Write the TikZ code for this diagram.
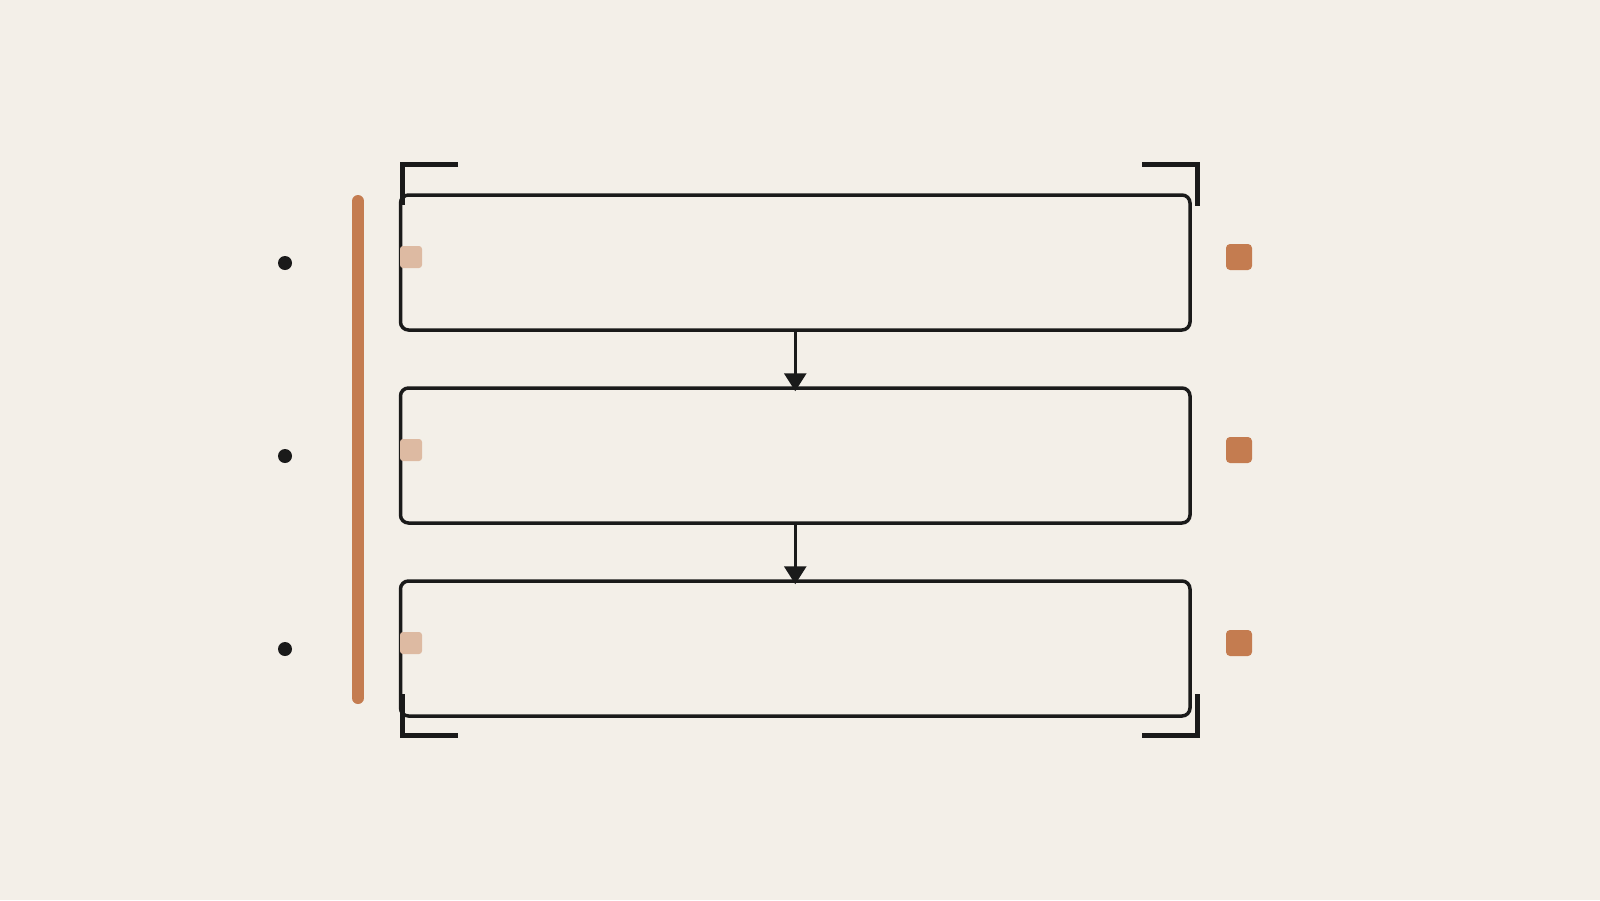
\documentclass[tikz,border=0pt]{standalone}
\usetikzlibrary{arrows.meta}
\definecolor{bg}{HTML}{F3EFE8}
\definecolor{ink}{HTML}{1A1A1A}
\definecolor{clay}{HTML}{C47C50}
\definecolor{pale}{HTML}{DDBAA2}
\tikzset{
  stage/.style={draw=ink, line width=3.5pt, rounded corners=8pt, minimum width=789.5pt, minimum height=135pt, inner sep=0pt, fill=none},
  tab/.style={fill=pale, rounded corners=3pt, minimum size=22pt, inner sep=0pt},
  tag/.style={fill=clay, rounded corners=4pt, minimum size=26pt, inner sep=0pt},
  pin/.style={circle, fill=ink, minimum size=14pt, inner sep=0pt},
  flow/.style={draw=ink, line width=3pt, -{Triangle[width=22pt,length=18pt]}, shorten >=-5pt},
  crop/.style={draw=ink, line width=5pt, line cap=butt, line join=miter}
}
\begin{document}
\begin{tikzpicture}[x=1pt,y=-1pt]
\fill[bg] (0,0) rectangle (1600,900);
\useasboundingbox (0,0) rectangle (1600,900);
% orange bar
\draw[clay, line width=12pt, line cap=round] (358,201) -- (358,698);
% boxes
\node[stage] (b1) at (795.25,262.5) {};
\node[stage] (b2) at (795.25,455.5) {};
\node[stage] (b3) at (795.25,648.5) {};
% arrows
\draw[flow] (b1.south) -- (b2.north);
\draw[flow] (b2.south) -- (b3.north);
% pale tabs
\node[tab] (t1) at (411,257) {};
\node[tab] (t2) at (411,450) {};
\node[tab] (t3) at (411,643) {};
% orange tags
\node[tag] (g1) at (1239,257) {};
\node[tag] (g2) at (1239,450) {};
\node[tag] (g3) at (1239,643) {};
% dots
\node[pin] (d1) at (285,263) {};
\node[pin] (d2) at (285,456) {};
\node[pin] (d3) at (285,649) {};
% crop brackets
\draw[crop] (458,164.5) -- (402.5,164.5) -- (402.5,205);
\draw[crop] (1142,164.5) -- (1197.5,164.5) -- (1197.5,206);
\draw[crop] (402.5,694) -- (402.5,735.5) -- (458,735.5);
\draw[crop] (1197.5,694) -- (1197.5,735.5) -- (1142,735.5);
\end{tikzpicture}
\end{document}
